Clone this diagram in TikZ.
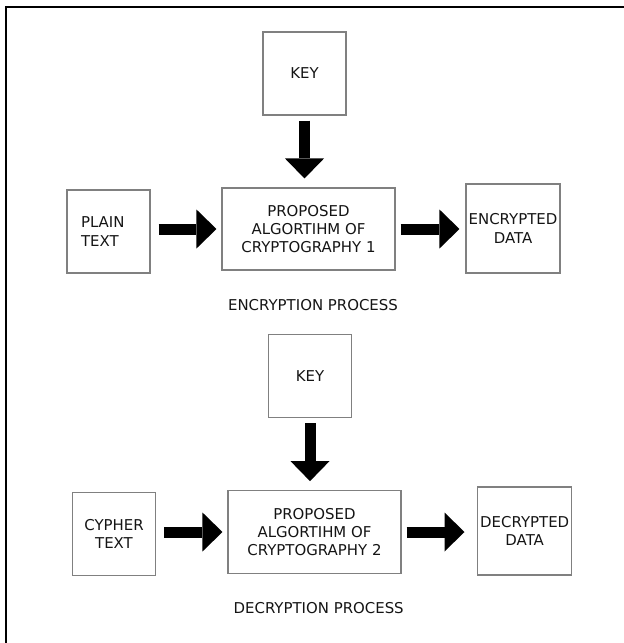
\documentclass[tikz,border=0pt]{standalone}
\usepackage{fontspec}
\setmainfont{DejaVu Sans}
\usetikzlibrary{arrows.meta}
\definecolor{boxline}{RGB}{128,128,128}
\definecolor{ink}{RGB}{20,20,20}

\begin{document}
\begin{tikzpicture}[x=0.75pt, y=-0.75pt,
  box/.style={draw=boxline, line width=0.8pt, inner sep=0pt, align=center,
              text=ink, font=\fontsize{11.2}{13.7}\selectfont},
  caption/.style={inner sep=0pt, text=ink, font=\fontsize{11.2}{13.7}\selectfont},
  blockarrow/.style={draw=black, line width=8.25pt,
              -{Triangle[width=29.25pt, length=15pt, line width=0pt]}},
  frame/.style={draw=black, line width=1.2pt}]

\useasboundingbox (0,0) rectangle (624,643);

% page frame: top and left edges only
\draw[frame] (624,7) -- (6,7) -- (6,643);

% ---- encryption ----
\node[box, minimum width=62.25pt, minimum height=62.25pt] (key1) at (304.5,73.5) {KEY};
\node[box, minimum width=62.25pt, minimum height=62.25pt, align=left,
      text width=41.25pt, inner xsep=10.5pt] (plain) at (108.5,231.5) {PLAIN\\TEXT};
\node[box, minimum width=129.75pt, minimum height=61.5pt] (alg1) at (308.5,229)
      {PROPOSED\\ALGORTIHM OF\\CRYPTOGRAPHY 1};
\node[box, minimum width=70.5pt, minimum height=66.75pt] (enc) at (513,228.5)
      {ENCRYPTED\\DATA};
\node[caption, anchor=base] (cap1) at (313,310.7) {ENCRYPTION PROCESS};

\draw[blockarrow, shorten <=3.75pt, shorten >=6.75pt] (key1.south) -- (key1.south |- alg1.north);
\draw[blockarrow, shorten <=6pt, shorten >=3.75pt] (plain.east |- alg1.west) -- (alg1.west);
\draw[blockarrow, shorten <=3.75pt, shorten >=4.5pt] (alg1.east) -- (enc.west |- alg1.east);

% ---- decryption ----
\node[box, minimum width=62.6pt, minimum height=62.25pt] (key2) at (310,376) {KEY};
\node[box, minimum width=62.25pt, minimum height=62.25pt] (cypher) at (114,534) {CYPHER\\TEXT};
\node[box, minimum width=129.75pt, minimum height=62pt] (alg2) at (314.5,532)
      {PROPOSED\\ALGORTIHM OF\\CRYPTOGRAPHY 2};
\node[box, minimum width=70.5pt, minimum height=66pt] (dec) at (524.7,531)
      {DECRYPTED\\DATA};
\node[caption, anchor=base] (cap2) at (318.7,613.3) {DECRYPTION PROCESS};

\draw[blockarrow, shorten <=3.75pt, shorten >=6.75pt] (key2.south) -- (key2.south |- alg2.north);
\draw[blockarrow, shorten <=6.15pt, shorten >=3.75pt] (cypher.east |- alg2.west) -- (alg2.west);
\draw[blockarrow, shorten <=3.75pt, shorten >=9.5pt] (alg2.east) -- (dec.west |- alg2.east);
\end{tikzpicture}
\end{document}
